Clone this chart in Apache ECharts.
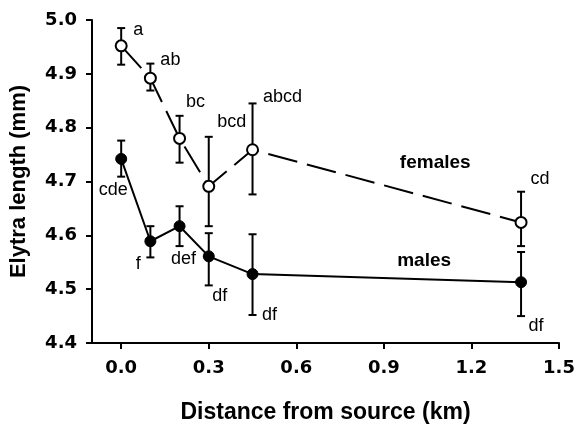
<!DOCTYPE html>
<html>
<head>
<meta charset="utf-8">
<script src="https://cdn.jsdelivr.net/npm/echarts@6/dist/echarts.min.js"></script>
<style>
    html, body { margin: 0; padding: 0; background: #fff; }
    #chart { width: 576px; height: 426px; }
</style>
</head>
<body>
<div id="chart"></div>
<script>
// distance from source (km)
var adDist = [0, 0.1, 0.2, 0.3, 0.45, 1.37];

// females, mean and error bar ends (mm)
var adFemaleMean = [4.952, 4.892, 4.780, 4.691, 4.759, 4.624];
var adFemaleLow = [4.917, 4.869, 4.735, 4.617, 4.676, 4.580];
var adFemaleHigh = [4.985, 4.919, 4.822, 4.783, 4.845, 4.681];
var acFemaleLetter = ['a', 'ab', 'bc', 'bcd', 'abcd', 'cd'];

// males
var adMaleMean = [4.742, 4.589, 4.617, 4.561, 4.528, 4.513];
var adMaleLow = [4.709, 4.559, 4.580, 4.507, 4.452, 4.450];
var adMaleHigh = [4.776, 4.617, 4.654, 4.604, 4.602, 4.569];
var acMaleLetter = ['cde', 'f', 'def', 'df', 'df', 'df'];

var adXTicks = [0, 0.3, 0.6, 0.9, 1.2, 1.5];

// where the letters sit relative to each point (px)
var aaFemaleOffset = [[17, -16], [20, -18], [16, -36], [23, -64], [30, -53], [19, -43]];
var aaMaleOffset = [[-8, 31], [-12, 23], [4, 33], [11, 40], [17, 41], [15, 44]];

var cTickFont = '"DejaVu Sans", sans-serif';
var cFont = '"Liberation Sans", Arial, sans-serif';

// 误差线
function errData(adLow, adHigh) {
    var aoData = [];
    for (var i = 0; i < adDist.length; i++) {
        aoData.push([adDist[i], adLow[i], adHigh[i]]);
    }
    return aoData;
}

function renderErr(params, api) {
    var oLow = api.coord([api.value(0), api.value(1)]);
    var oHigh = api.coord([api.value(0), api.value(2)]);
    var nHalf = 4;
    var oStyle = { stroke: '#000', lineWidth: 2 };
    return {
        type: 'group',
        children: [
            { type: 'line', shape: { x1: oLow[0], y1: oLow[1], x2: oHigh[0], y2: oHigh[1] }, style: oStyle },
            { type: 'line', shape: { x1: oLow[0] - nHalf, y1: oLow[1], x2: oLow[0] + nHalf, y2: oLow[1] }, style: oStyle },
            { type: 'line', shape: { x1: oHigh[0] - nHalf, y1: oHigh[1], x2: oHigh[0] + nHalf, y2: oHigh[1] }, style: oStyle }
        ]
    };
}

function lineData(adMean, acLetter, aaOffset) {
    var aoData = [];
    for (var i = 0; i < adDist.length; i++) {
        aoData.push({
            value: [adDist[i], adMean[i]],
            label: { formatter: acLetter[i], offset: aaOffset[i] }
        });
    }
    return aoData;
}

var oLetterLabel = {
    show: true,
    position: 'inside',
    color: '#000',
    fontFamily: cFont,
    fontSize: 18
};

var oChart = echarts.init(document.getElementById('chart'));
var oOption = {
    animation: false,
    backgroundColor: '#fff',
    grid: { left: 92, right: 17, top: 20, bottom: 83, containLabel: false, outerBoundsMode: 'none' },
    xAxis: {
        type: 'value',
        min: -0.1,
        max: 1.5,
        name: 'Distance from source (km)',
        nameLocation: 'middle',
        nameGap: 58,
        nameTextStyle: { fontFamily: cFont, fontWeight: 'bold', fontSize: 23, color: '#000' },
        axisLine: { onZero: false, lineStyle: { color: '#000', width: 2 } },
        axisTick: { show: true, customValues: adXTicks, length: 6, lineStyle: { color: '#000', width: 2 } },
        axisLabel: {
            customValues: adXTicks,
            margin: 16,
            fontFamily: cTickFont,
            fontWeight: 'bold',
            fontSize: 18,
            color: '#000',
            formatter: function (v) { return v.toFixed(1); }
        },
        splitLine: { show: false }
    },
    yAxis: {
        type: 'value',
        min: 4.4,
        max: 5.0,
        interval: 0.1,
        name: 'Elytra length (mm)',
        nameLocation: 'middle',
        nameGap: 62,
        nameTextStyle: { fontFamily: cFont, fontWeight: 'bold', fontSize: 22, color: '#000' },
        axisLine: { onZero: false, lineStyle: { color: '#000', width: 2 } },
        axisTick: { show: true, length: 6, lineStyle: { color: '#000', width: 2 } },
        axisLabel: {
            margin: 15,
            fontFamily: cTickFont,
            fontWeight: 'bold',
            fontSize: 18,
            color: '#000',
            formatter: function (v) { return v.toFixed(1); }
        },
        splitLine: { show: false }
    },
    series: [
        {
            name: 'females err',
            type: 'custom',
            renderItem: renderErr,
            data: errData(adFemaleLow, adFemaleHigh),
            z: 2
        },
        {
            name: 'males err',
            type: 'custom',
            renderItem: renderErr,
            data: errData(adMaleLow, adMaleHigh),
            z: 2
        },
        {
            name: 'females',
            type: 'line',
            data: lineData(adFemaleMean, acFemaleLetter, aaFemaleOffset),
            symbol: 'circle',
            symbolSize: 11,
            lineStyle: { color: '#000', width: 2, type: [30, 10] },
            itemStyle: { color: '#fff', borderColor: '#000', borderWidth: 2 },
            label: oLetterLabel,
            z: 3,
            markPoint: {
                symbol: 'circle',
                symbolSize: 1,
                itemStyle: { color: 'rgba(0,0,0,0)' },
                label: { show: true, formatter: 'females', color: '#000', fontFamily: cFont, fontWeight: 'bold', fontSize: 19 },
                data: [{ coord: [1.076, 4.735] }]
            }
        },
        {
            name: 'males',
            type: 'line',
            data: lineData(adMaleMean, acMaleLetter, aaMaleOffset),
            symbol: 'circle',
            symbolSize: 11,
            lineStyle: { color: '#000', width: 2 },
            itemStyle: { color: '#000', borderColor: '#000', borderWidth: 1 },
            label: oLetterLabel,
            z: 3,
            markPoint: {
                symbol: 'circle',
                symbolSize: 1,
                itemStyle: { color: 'rgba(0,0,0,0)' },
                label: { show: true, formatter: 'males', color: '#000', fontFamily: cFont, fontWeight: 'bold', fontSize: 19 },
                data: [{ coord: [1.038, 4.552] }]
            }
        }
    ]
};
oChart.setOption(oOption);
</script>
</body>
</html>
